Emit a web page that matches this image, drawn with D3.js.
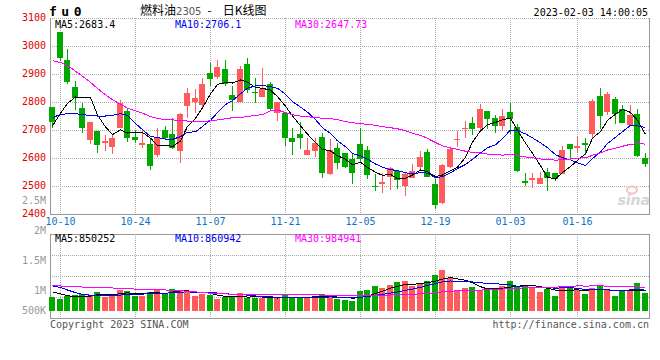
<!DOCTYPE html>
<html>
<head>
<meta charset="utf-8">
<script src="https://cdn.jsdelivr.net/npm/d3@7"></script>
<style>
  body { margin: 0; background: #fff; }
  svg { display: block; }
</style>
</head>
<body>
<div id="chart"></div>
<script>
// ---- data ----
var dates = ["09-30",
  "10-10","10-11","10-12","10-13","10-14","10-17","10-18","10-19","10-20","10-21",
  "10-24","10-25","10-26","10-27","10-28","10-31","11-01","11-02","11-03","11-04",
  "11-07","11-08","11-09","11-10","11-11","11-14","11-15","11-16","11-17","11-18",
  "11-21","11-22","11-23","11-24","11-25","11-28","11-29","11-30","12-01","12-02",
  "12-05","12-06","12-07","12-08","12-09","12-12","12-13","12-14","12-15","12-16",
  "12-19","12-20","12-21","12-22","12-23","12-26","12-27","12-28","12-29","12-30",
  "01-03","01-04","01-05","01-06","01-09","01-10","01-11","01-12","01-13",
  "01-16","01-17","01-18","01-19","01-20","01-30","01-31","02-01","02-02","02-03"];

var openP  = [2782,3051,2951,2855,2780,2665,2696,2652,2638,2708, 2768,2676,2645,2651,2610,2699,2687,2626,2787,2799,
              2789,2905,2889,2919,2825,2800,2935,2837,2819,2863, 2762,2762,2673,2685,2610,2625,2676,2544,2637,2617,
              2595,2651,2630,2500,2506,2532,2554,2499,2530,2569, 2623,2508,2440,2569,2663,2704,2725,2708,2768,2744,
              2714,2764,2712,2518,2523,2508,2551,2548,2544,2651, 2637,2655,2685,2823,2765,2812,2774,2718,2758,2599];
var highP  = [2782,3051,2990,2875,2795,2730,2696,2681,2685,2806, 2780,2700,2700,2670,2708,2714,2742,2762,2851,2845,
              2887,2940,2949,2951,2857,2929,2958,2887,2920,2873, 2801,2762,2708,2730,2670,2670,2690,2667,2655,2617,
              2613,2708,2642,2542,2548,2568,2554,2551,2580,2625, 2631,2526,2580,2635,2696,2732,2748,2794,2768,2754,
              2774,2798,2720,2548,2548,2551,2565,2548,2643,2651, 2677,2673,2810,2849,2837,2819,2788,2789,2774,2619];
var lowP   = [2708,2946,2863,2770,2690,2649,2617,2625,2613,2708, 2658,2655,2637,2556,2605,2663,2631,2581,2744,2762,
              2774,2857,2883,2857,2768,2800,2833,2798,2819,2768, 2732,2643,2611,2631,2610,2604,2527,2539,2560,2563,
              2508,2587,2524,2482,2476,2485,2488,2465,2530,2560, 2532,2417,2435,2565,2639,2670,2682,2696,2705,2690,
              2696,2685,2551,2500,2492,2508,2482,2518,2544,2595, 2619,2610,2667,2702,2754,2720,2726,2714,2604,2569];
var closeP = [2730,2958,2873,2813,2706,2730,2645,2662,2673,2796, 2670,2663,2655,2570,2670,2673,2635,2756,2831,2813,
              2863,2881,2926,2863,2806,2917,2842,2831,2848,2774, 2801,2670,2658,2670,2627,2652,2548,2629,2583,2569,
              2548,2595,2538,2495,2515,2563,2520,2544,2554,2605, 2532,2431,2574,2631,2669,2708,2702,2776,2738,2713,
              2750,2738,2554,2512,2529,2530,2530,2524,2630,2633, 2642,2645,2804,2749,2830,2756,2726,2754,2607,2577];

var volume = [559000,489000,615000,656000,684000,628000,782000,587000,684000,866000,
              824000,628000,628000,782000,894000,684000,908000,866000,824000,615000,
              684000,656000,489000,559000,559000,726000,517000,545000,517000,545000,
              517000,684000,559000,545000,545000,545000,698000,587000,489000,447000,
              405000,824000,866000,1034000,936000,1075000,1201000,1243000,1034000,1159000,
              1243000,1494000,1704000,1355000,866000,950000,992000,866000,866000,950000,
              1034000,1243000,1034000,1034000,950000,782000,908000,615000,1034000,950000,
              866000,698000,950000,1034000,866000,615000,824000,866000,1159000,740000];

// moving-average values before enough candles are on screen
var priceMa5Head  = [2715,2760,2795,2818];
var priceMa10Head = [2745,2755,2758,2758,2755,2752,2750,2750,2752];
var priceMa30Head = [2948,2941,2930,2910,2892,2870,2848,2826,2808,2792,2778,2769,2760,2748,2741,
                     2737,2736,2734,2732,2731,2730,2733,2736,2740,2744,2745,2748,2752,2755];
var volMa5Head  = [790000,700000,630000,585000];
var volMa10Head = [1037000,971000,867000,754000,679000,650000,650000,650000,650000];
var volMa30Head = [1046000,1037000,1018000,1009000,990000,980000,980000,962000,952000,933000,
                   924000,905000,905000,896000,877000,867000,848000,839000,811000,792000,
                   754000,735000,716000,702000,693000,683000,679000,674000,669000];

var priceTicks = [2400,2500,2600,2700,2800,2900,3000,3100];
var volTicks = [500000,1000000,1500000,2000000,2500000];
var volTickLabels = ["500K","1M","1.5M","2M","2.5M"];
var dateTicks = ["10-10","10-24","11-07","11-21","12-05","12-19","01-03","01-16"];

var priceLegend = ["MA5:2683.4","MA10:2706.1","MA30:2647.73"];
var volLegend = ["MA5:850252","MA10:860942","MA30:984941"];
var titleName = "燃料油", contractCode = "2305", titleKind = "日K线图";
var symbol = "fu0";
var stamp = "2023-02-03 14:00:05";

// ---- layout ----
var W = 660, H = 360;
var left = 50, right = 649;
var pTop = 18, pBot = 214;
var vTop = 234.3, vBase = 310.7, vBot = 318.3;
var mono = "DejaVu Sans Mono";
var upColor = "#ff5b5b", downColor = "#00a800";
var maColors = ["#000000", "#0000ee", "#ff00ff"];
var gridColor = "#aaaaaa", frameColor = "#999999";

function movingAvg(vals, n, head) {
  return vals.map(function(v, i) {
    if (i < n - 1) return head[i];
    return d3.mean(vals.slice(i - n + 1, i + 1));
  });
}

var bars = dates.map(function(d, i) {
  return { date: d, open: openP[i], high: highP[i], low: lowP[i], close: closeP[i], vol: volume[i] };
});
var priceMa = [movingAvg(closeP, 5, priceMa5Head), movingAvg(closeP, 10, priceMa10Head), movingAvg(closeP, 30, priceMa30Head)];
var volMa = [movingAvg(volume, 5, volMa5Head), movingAvg(volume, 10, volMa10Head), movingAvg(volume, 30, volMa30Head)];

var x = d3.scaleBand().domain(dates).range([49, 649]).paddingInner(0);
var y = d3.scaleLinear().domain([2400, 3100]).range([pBot, pTop]);
var vy = d3.scaleLinear().domain([0, 3200000]).range([vBase, vTop]);
// the volume labels sit on their own (uneven) positions in the original
var vLabel = d3.scaleLinear().domain([500000, 1000000, 2500000]).range([310, 290.7, 200]);

function cx(d) { return Math.floor(x(d) + x.bandwidth() / 2); }
function barColor(d) { return d.close >= d.open ? upColor : downColor; }

var svg = d3.select("#chart").append("svg")
  .attr("width", W).attr("height", H)
  .style("font-family", mono).style("font-size", "10px");

// ---- grid ----
var grid = svg.append("g").attr("stroke", gridColor).attr("stroke-dasharray", "1,1").attr("shape-rendering", "crispEdges");
grid.selectAll(".hp").data(priceTicks.filter(function(t) { return t > 2400; }))
  .enter().append("line")
    .attr("x1", left).attr("x2", right)
    .attr("y1", function(t) { return Math.round(y(t)) + 0.5; })
    .attr("y2", function(t) { return Math.round(y(t)) + 0.5; });
grid.selectAll(".hv").data([0.25, 0.5, 0.75])
  .enter().append("line")
    .attr("x1", left).attr("x2", right)
    .attr("y1", function(f) { return Math.round(vTop + f * (vBot - vTop)) + 0.5; })
    .attr("y2", function(f) { return Math.round(vTop + f * (vBot - vTop)) + 0.5; });
grid.selectAll(".vp").data(dateTicks)
  .enter().append("line")
    .attr("x1", function(d) { return cx(d) + 0.5; }).attr("x2", function(d) { return cx(d) + 0.5; })
    .attr("y1", pTop).attr("y2", pBot);
grid.selectAll(".vv").data(dateTicks)
  .enter().append("line")
    .attr("x1", function(d) { return cx(d) + 0.5; }).attr("x2", function(d) { return cx(d) + 0.5; })
    .attr("y1", vTop).attr("y2", vBot);

// ---- frames ----
var frame = svg.append("g").attr("stroke", frameColor).attr("fill", "none").attr("shape-rendering", "crispEdges");
frame.append("path").attr("d", "M" + (left + 0.5) + "," + pTop + "V" + (pBot + 0.5) + "H" + (right + 0.5) + "V" + pTop);
frame.append("path").attr("d", "M" + (left + 0.5) + "," + (Math.round(vBot) + 0.5) + "V" + (Math.round(vTop) + 0.5) +
  "H" + (right + 0.5) + "V" + (Math.round(vBot) + 0.5) + "Z");

// sina watermark
var wm = svg.append("g");
wm.append("ellipse").attr("cx", 632).attr("cy", 190).attr("rx", 5).attr("ry", 3.5)
  .attr("fill", "none").attr("stroke", "#f3c4c4").attr("stroke-width", 2);
wm.append("text").attr("x", 650).attr("y", 205).attr("text-anchor", "end")
  .style("font-family", "DejaVu Sans").style("font-size", "14px").style("font-weight", "bold")
  .style("font-style", "italic").attr("fill", "#d6d6d6").text("sina");

// ---- candles ----
var candles = svg.append("g").attr("shape-rendering", "crispEdges");
candles.selectAll(".wick").data(bars).enter().append("line")
  .attr("x1", function(d) { return cx(d.date) + 0.5; })
  .attr("x2", function(d) { return cx(d.date) + 0.5; })
  .attr("y1", function(d) { return Math.round(y(d.high)); })
  .attr("y2", function(d) { return Math.round(y(d.low)); })
  .attr("stroke", barColor);
candles.selectAll(".body").data(bars).enter().append("rect")
  .attr("x", function(d) { return cx(d.date) - 3; })
  .attr("width", 6)
  .attr("y", function(d) { return Math.round(y(Math.max(d.open, d.close))); })
  .attr("height", function(d) { return Math.max(1, Math.round(y(Math.min(d.open, d.close))) - Math.round(y(Math.max(d.open, d.close)))); })
  .attr("fill", barColor);

// ---- volume bars ----
svg.append("g").attr("shape-rendering", "crispEdges")
  .selectAll("rect").data(bars).enter().append("rect")
    .attr("x", function(d) { return cx(d.date) - 3; })
    .attr("width", 6)
    .attr("y", function(d) { return Math.round(vy(d.vol)); })
    .attr("height", function(d) { return Math.round(vy(0)) - Math.round(vy(d.vol)); })
    .attr("fill", barColor);

// ---- moving average lines ----
var lines = svg.append("g").attr("fill", "none").attr("stroke-width", 1).attr("shape-rendering", "crispEdges");
priceMa.forEach(function(ma, k) {
  lines.append("path")
    .attr("stroke", maColors[k])
    .attr("d", d3.line().x(function(v, i) { return cx(dates[i]) + 0.5; }).y(function(v) { return y(v); })(ma));
});
volMa.forEach(function(ma, k) {
  lines.append("path")
    .attr("stroke", maColors[k])
    .attr("d", d3.line().x(function(v, i) { return cx(dates[i]) + 0.5; }).y(function(v) { return vy(v); })(ma));
});

// ---- axes ----
var yAxis = svg.append("g").attr("transform", "translate(" + left + ",0)")
  .call(d3.axisLeft(y).tickValues(priceTicks).tickSize(0).tickPadding(4).tickFormat(d3.format("d")));
yAxis.select(".domain").remove();
yAxis.selectAll("text").attr("fill", "#e00000").attr("dy", "0.2em")
  .style("font-family", mono).style("font-size", "10px");

var vAxis = svg.append("g").attr("transform", "translate(" + left + ",0)")
  .call(d3.axisLeft(vLabel).tickValues(volTicks).tickSize(0).tickPadding(4)
    .tickFormat(function(v, i) { return volTickLabels[i]; }));
vAxis.select(".domain").remove();
vAxis.selectAll("text").attr("fill", "#999999").attr("dy", "0.3em")
  .style("font-family", mono).style("font-size", "10px");

var xAxis = svg.append("g").attr("transform", "translate(0," + pBot + ")")
  .call(d3.axisBottom(x).tickValues(dateTicks).tickSize(0).tickPadding(4));
xAxis.select(".domain").remove();
xAxis.selectAll(".tick").attr("transform", function(d) { return "translate(" + (cx(d) + 0.5) + ",0)"; });
xAxis.selectAll("text").attr("fill", "#0a74c8").style("font-family", mono).style("font-size", "10px");

// ---- legends ----
var legendX = [55, 175, 295];
svg.append("g").selectAll("text").data(priceLegend).enter().append("text")
  .attr("x", function(d, i) { return legendX[i]; }).attr("y", 27.5)
  .attr("fill", function(d, i) { return maColors[i]; }).text(function(d) { return d; });
svg.append("g").selectAll("text").data(volLegend).enter().append("text")
  .attr("x", function(d, i) { return legendX[i]; }).attr("y", 242)
  .attr("fill", function(d, i) { return maColors[i]; }).text(function(d) { return d; });

// ---- header ----
svg.append("text").attr("x", 49).attr("y", 15.5)
  .style("font-family", mono).style("font-size", "13px").style("font-weight", "bold")
  .style("letter-spacing", "4.5px").attr("fill", "#000").text(symbol);

var title = svg.append("text").attr("x", 140).attr("y", 15)
  .style("font-family", "'Noto Sans CJK SC'").style("font-size", "12px").attr("fill", "#000");
title.append("tspan").text(titleName);
title.append("tspan").attr("fill", "#555").style("font-family", "'DejaVu Sans'").style("font-size", "10px").text(contractCode);
title.append("tspan").attr("dx", 6).text("-");
title.append("tspan").attr("dx", 11).text(titleKind);

svg.append("text").attr("x", 648).attr("y", 15.5).attr("text-anchor", "end")
  .attr("fill", "#000").text(stamp);

// ---- footer ----
svg.append("text").attr("x", 50).attr("y", 327.5).attr("fill", "#555").text("Copyright 2023 SINA.COM");
svg.append("text").attr("x", 649).attr("y", 327.5).attr("text-anchor", "end").attr("fill", "#555").text("http://finance.sina.com.cn");
</script>
</body>
</html>
